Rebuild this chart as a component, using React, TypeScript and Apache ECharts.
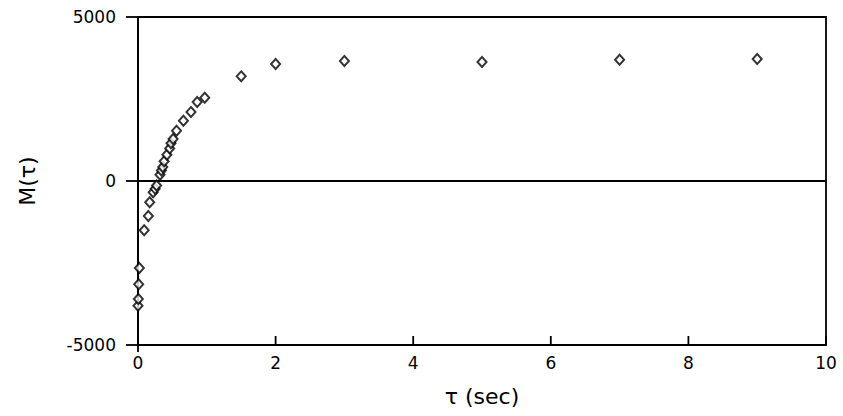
import React, { useEffect, useRef } from "react";
import * as echarts from "echarts";

const tauSec = [0, 0.005, 0.01, 0.02, 0.09, 0.15, 0.17, 0.22, 0.25, 0.27, 0.32, 0.34, 0.36, 0.38, 0.42, 0.46, 0.48, 0.51, 0.56, 0.66, 0.77, 0.86, 0.97, 1.5, 2, 3, 5, 7, 9];
const mTau = [-3800, -3600, -3150, -2650, -1500, -1070, -650, -340, -240, -140, 190, 320, 430, 600, 800, 990, 1150, 1280, 1530, 1840, 2100, 2410, 2540, 3190, 3570, 3660, 3630, 3700, 3720];
const xTicks = [0, 2, 4, 6, 8, 10];
const yTicks = [-5000, 0, 5000];

const FONT = "DejaVu Sans";

export default function App() {
  const ref = useRef<HTMLDivElement>(null);
  useEffect(() => {
    if (!ref.current) return;
    const chart = echarts.init(ref.current, null, { renderer: "svg" });
    const data = tauSec.map((t, i) => [t, mTau[i]]);
    chart.setOption({
      animation: false,
      backgroundColor: "#ffffff",
      grid: {
        left: 138,
        right: 17,
        top: 17,
        bottom: 71,
        show: true,
        borderColor: "#000",
        borderWidth: 1.8,
      },
      xAxis: {
        type: "value",
        min: 0,
        max: 10,
        interval: 2,
        name: "τ (sec)",
        nameLocation: "middle",
        nameGap: 40,
        nameTextStyle: { fontFamily: FONT, fontSize: 22, color: "#000" },
        axisLine: { show: true, onZero: false, lineStyle: { color: "#000", width: 1.8 } },
        axisTick: { show: false },
        axisLabel: { fontFamily: FONT, fontSize: 17, color: "#000", margin: 9, formatter: (v: number) => String(v) },
        splitLine: { show: false },
      },
      yAxis: {
        type: "value",
        min: -5000,
        max: 5000,
        interval: 5000,
        name: "M(τ)",
        nameLocation: "middle",
        nameGap: 100,
        nameRotate: 90,
        nameTextStyle: { fontFamily: FONT, fontSize: 22, color: "#000" },
        axisLine: { show: true, onZero: false, lineStyle: { color: "#000", width: 1.8 } },
        axisTick: { show: false },
        axisLabel: { fontFamily: FONT, fontSize: 17, color: "#000", margin: 22, formatter: (v: number) => String(v) },
        splitLine: { show: true, lineStyle: { color: "#000", width: 1.8 } },
      },
      series: [
        {
          type: "scatter",
          data,
          symbol: "diamond",
          symbolSize: [9, 10],
          itemStyle: { color: "#ffffff", borderColor: "#000", borderWidth: 2 },
        },
      ],
    });

    const tickStyle = { stroke: "#000", lineWidth: 1.8 };
    const elements: any[] = [];
    xTicks.forEach((v) => {
      const p = chart.convertToPixel({ gridIndex: 0 }, [v, -5000]) as number[];
      elements.push({
        type: "line",
        shape: { x1: p[0], y1: p[1] + (v === 0 ? 7 : 0), x2: p[0], y2: p[1] - 9 },
        style: tickStyle,
        z: 10,
      });
    });
    yTicks.forEach((v) => {
      const p = chart.convertToPixel({ gridIndex: 0 }, [0, v]) as number[];
      elements.push({
        type: "line",
        shape: { x1: p[0] - 12, y1: p[1], x2: p[0], y2: p[1] },
        style: tickStyle,
        z: 10,
      });
    });
    chart.setOption({ graphic: { elements } });

    return () => chart.dispose();
  }, []);
  return (
    <div
      ref={ref}
      style={{ position: "fixed", left: 0, top: 0, width: 843, height: 416, background: "#fff" }}
    />
  );
}
